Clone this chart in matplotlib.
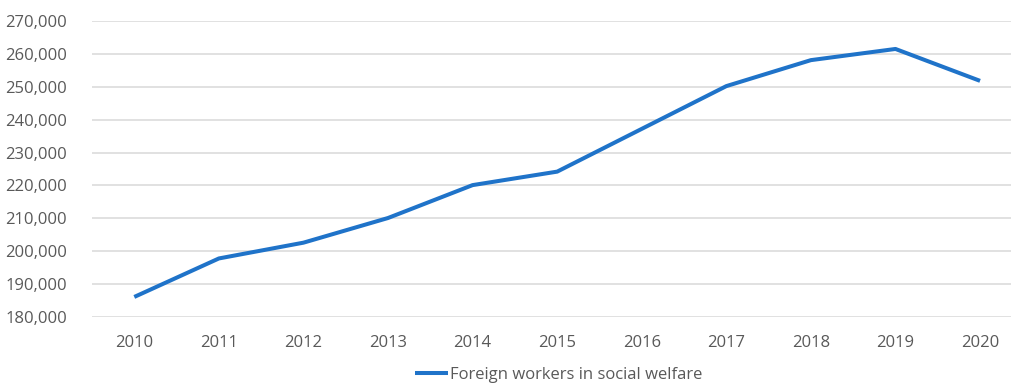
import matplotlib.pyplot as plt
from matplotlib.ticker import FuncFormatter

# Data
years = ["2010", "2011", "2012", "2013", "2014", "2015", "2016", "2017", "2018", "2019", "2020"]
workers = [186100, 197800, 202600, 210100, 220100, 224200, 237200, 250200, 258100, 261500, 251800]

plt.rcParams['font.family'] = ['Open Sans', 'DejaVu Sans']

fig = plt.figure(figsize=(10.11, 3.87), dpi=100)
ax = fig.add_axes([92 / 1011, 70 / 387, 1 - 92 / 1011, 296 / 387])

x = range(len(years))
ax.plot(x, workers, color='#1f73c9', linewidth=2.9, solid_capstyle='butt',
        label='Foreign workers in social welfare')

ax.set_ylim(180000, 270000)
ax.set_yticks(range(180000, 270001, 10000))
ax.yaxis.set_major_formatter(FuncFormatter(lambda v, p: f"{int(v):,}"))
ax.set_xlim(-0.5, 10.366)
ax.set_xticks(list(x))
ax.set_xticklabels(years)

ax.grid(axis='y', color='#d9d9d9', linewidth=1.1)
ax.set_axisbelow(True)
for s in ax.spines.values():
    s.set_visible(False)
ax.tick_params(length=0, labelsize=12, labelcolor='#595959')
ax.tick_params(axis='x', pad=13)
ax.tick_params(axis='y', pad=18)

leg = ax.legend(loc='upper center', bbox_to_anchor=(0.508, -0.13), frameon=False,
                fontsize=12, handlelength=2.0, handletextpad=0.1,
                borderpad=0.2)
for t in leg.get_texts():
    t.set_color('#595959')

fig.savefig('out.png', dpi=100)
